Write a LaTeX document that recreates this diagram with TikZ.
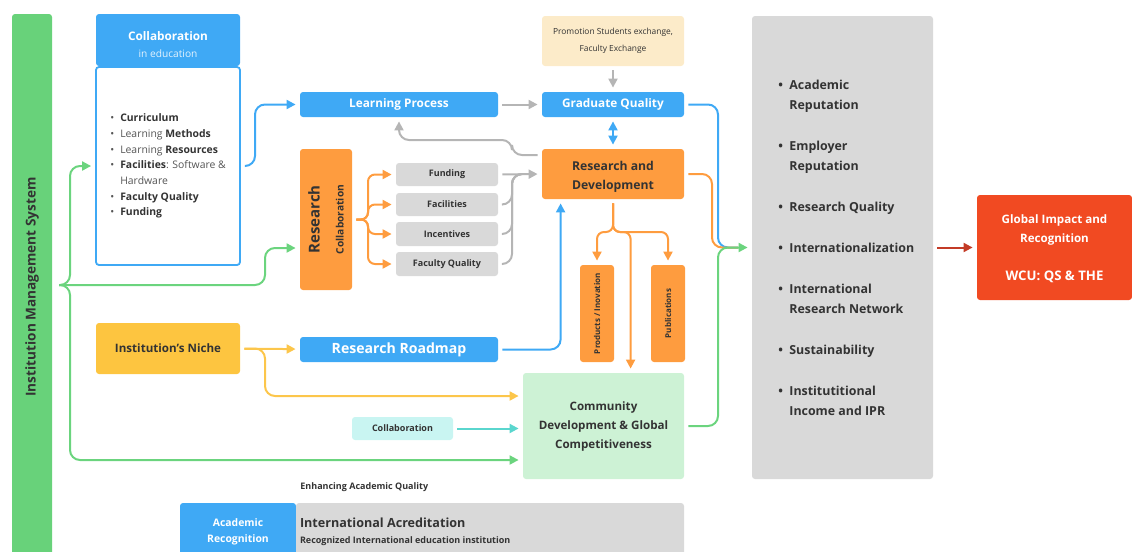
\documentclass[tikz,border=0pt]{standalone}
\usepackage{fontspec}
\setmainfont{Open Sans}
\usetikzlibrary{arrows.meta,calc}

\definecolor{imsgreen}{HTML}{68D27A}
\definecolor{lgreen}{HTML}{6BD47E}
\definecolor{cblue}{HTML}{3FA9F5}
\definecolor{corange}{HTML}{FE9C3F}
\definecolor{cyellow}{HTML}{FDC540}
\definecolor{lyellow}{HTML}{FCC64B}
\definecolor{cgray}{HTML}{D9D9D9}
\definecolor{lgray}{HTML}{B5B5B5}
\definecolor{cpromo}{HTML}{FCEBC9}
\definecolor{ccomm}{HTML}{CDF2D5}
\definecolor{cteal}{HTML}{C9F5F2}
\definecolor{lteal}{HTML}{5AD6CE}
\definecolor{cred}{HTML}{F14A22}
\definecolor{lred}{HTML}{C33B26}
\definecolor{txtdark}{HTML}{333333}
\definecolor{txtgray}{HTML}{555555}

\newcommand{\blt}{\makebox[5pt][l]{\textbullet}}
\newcommand{\fsz}[2]{\fontsize{#1}{#2}\selectfont}

\tikzset{
  box/.style={rectangle,rounded corners=1.5pt,inner sep=1pt,align=center,text=txtdark},
  bluebox/.style={box,fill=cblue,text=white},
  orangebox/.style={box,fill=corange},
  graybox/.style={box,fill=cgray},
  conn/.style={line width=1pt,rounded corners=5pt,shorten >=2pt,shorten <=2pt},
  tip/.style={-{Triangle[length=4.5pt,width=4.5pt]}},
  gline/.style={conn,draw=lgreen},
  bline/.style={conn,draw=cblue},
  oline/.style={conn,draw=corange},
  yline/.style={conn,draw=lyellow},
  grayl/.style={conn,draw=lgray},
  tline/.style={conn,draw=lteal},
  rline/.style={conn,draw=lred}
}

\begin{document}
\begin{tikzpicture}[x=0.5pt,y=-0.5pt]

\useasboundingbox (0,0) rectangle (1132,552);

% left column
\node[box,fill=imsgreen,rotate=90,minimum width=273pt,minimum height=20pt,
  font=\bfseries\fsz{6.8}{9}] (ims) at (32,287) {Institution Management System};

\node[bluebox,minimum width=72pt,minimum height=26pt,font=\bfseries\fsz{5.9}{8.5}]
  (collhead) at (168,40) {\rule{0pt}{9pt}Collaboration\\{\mdseries\fsz{5.1}{7}\color{white!85!cblue}in education}};
\node[box,draw=cblue,line width=0.9pt,fill=white,minimum width=72pt,minimum height=99pt,
  align=left,text=txtgray,font=\fsz{5.2}{7.85}] (collbody) at (168,166)
  {\blt\textbf{\color{txtdark}Curriculum}\\
   \blt Learning \textbf{\color{txtdark}Methods}\\
   \blt Learning \textbf{\color{txtdark}Resources}\\
   \blt\textbf{\color{txtdark}Facilities}: Software \&\\
   \hspace*{5pt}Hardware\\
   \blt\textbf{\color{txtdark}Faculty Quality}\\
   \blt\textbf{\color{txtdark}Funding}};

\node[box,fill=cyellow,minimum width=72pt,minimum height=25.5pt,font=\bfseries\fsz{5.8}{8}]
  (niche) at (168,348.5) {Institution’s Niche};

% middle
\node[bluebox,minimum width=99pt,minimum height=12.5pt,font=\bfseries\fsz{5.9}{8}]
  (learn) at (399,104.5) {Learning Process};
\node[bluebox,minimum width=71pt,minimum height=12.5pt,font=\bfseries\fsz{5.9}{8}]
  (grad) at (613,104.5) {Graduate Quality};
\node[box,fill=cpromo,minimum width=71pt,minimum height=25pt,font=\fsz{4.2}{8.5}]
  (promo) at (613,41) {Promotion Students exchange,\\Faculty Exchange};
\node[orangebox,minimum width=71pt,minimum height=25pt,font=\bfseries\fsz{6.1}{9.5}]
  (rnd) at (613,174) {\rule{0pt}{7pt}Research and\\Development};

\node[orangebox,rotate=90,minimum width=70.5pt,minimum height=26pt]
  (rcoll) at (326,219.5) {{\bfseries\fsz{7.5}{8}Research}\\{\bfseries\fsz{5.1}{6}Collaboration}};

\node[graybox,minimum width=51pt,minimum height=11.5pt,font=\bfseries\fsz{4.5}{6}] (fund) at (447,174.5) {Funding};
\node[graybox,minimum width=51pt,minimum height=11.5pt,font=\bfseries\fsz{4.5}{6}] (facil) at (447,204.5) {Facilities};
\node[graybox,minimum width=51pt,minimum height=12pt,font=\bfseries\fsz{4.5}{6}] (incent) at (447,234) {Incentives};
\node[graybox,minimum width=51pt,minimum height=12pt,font=\bfseries\fsz{4.5}{6}] (facq) at (447,264) {Faculty Quality};

\node[bluebox,minimum width=99pt,minimum height=12.5pt,font=\bfseries\fsz{7.05}{9}]
  (roadmap) at (399,349.5) {Research Roadmap};

\node[orangebox,rotate=90,minimum width=48.5pt,minimum height=17pt,font=\bfseries\fsz{4}{5}]
  (prod) at (597,313.5) {Products / Inovation};
\node[orangebox,rotate=90,minimum width=48.5pt,minimum height=17pt,font=\bfseries\fsz{4}{5}]
  (pub) at (668,313.5) {Publications};

\node[box,fill=ccomm,minimum width=80.5pt,minimum height=53pt,font=\bfseries\fsz{5.8}{9.5}]
  (comm) at (603.5,426) {Community\\Development \& Global\\Competitiveness};
\node[box,fill=cteal,minimum width=50.5pt,minimum height=11.5pt,font=\bfseries\fsz{4.5}{6}]
  (collsmall) at (402.5,428.5) {Collaboration};

% right
\node[graybox,minimum width=90.5pt,minimum height=231.5pt] (metrics) at (842.5,247.5) {};
\node[anchor=west,align=left,inner sep=0pt,text=txtdark,font=\bfseries\fsz{6.2}{10}]
  (metricslist) at (778,248)
  {\makebox[5.5pt][l]{\textbullet}Academic\\\hspace*{5.5pt}Reputation\\[10.5pt]
   \makebox[5.5pt][l]{\textbullet}Employer\\\hspace*{5.5pt}Reputation\\[10.5pt]
   \makebox[5.5pt][l]{\textbullet}Research Quality\\[10.5pt]
   \makebox[5.5pt][l]{\textbullet}Internationalization\\[10.5pt]
   \makebox[5.5pt][l]{\textbullet}International\\\hspace*{5.5pt}Research Network\\[10.5pt]
   \makebox[5.5pt][l]{\textbullet}Sustainability\\[10.5pt]
   \makebox[5.5pt][l]{\textbullet}Institutitional\\\hspace*{5.5pt}Income and IPR};

\node[box,fill=cred,text=white,minimum width=77.5pt,minimum height=52.5pt,font=\bfseries\fsz{5.8}{9.5}]
  (gir) at (1054.5,247.5) {\rule{0pt}{6pt}Global Impact and\\Recognition\\[9.5pt]{\fsz{6.6}{9.5}WCU: QS \& THE}};

% bottom
\node[anchor=west,inner sep=0pt,text=txtdark,font=\bfseries\fsz{4.5}{6}] (enh) at (300,487) {Enhancing Academic Quality};
\node[bluebox,minimum width=58pt,minimum height=28.5pt,font=\bfseries\fsz{5.2}{8}]
  (acrec) at (238,531.5) {Academic\\Recognition};
\node[graybox,minimum height=28.5pt,text width=190pt,inner xsep=2pt,align=flush left]
  (intacc) at (490,531.5) {{\bfseries\fsz{6.3}{8}International Acreditation}\\[-4pt]{\bfseries\fsz{4.5}{6}Recognized International education institution}};

% connectors
\coordinate (split) at (55,285);
\draw[gline,tip] (split) -- (70,285) |- (collbody.west);
\draw[gline,tip] (split) -- (265,285) |- ($(rcoll.north)+(0,28.5)$);
\draw[gline,tip] (split) -- (70,285) |- ($(comm.west)+(0,34)$);

\draw[bline,tip] (collbody.east) -- (255,166) |- (learn.west);
\draw[grayl,tip] (learn) -- (grad);
\draw[grayl,tip] (promo) -- (grad);
\draw[bline,{Triangle[length=4.5pt,width=4.5pt]}-{Triangle[length=4.5pt,width=4.5pt]}] (grad) -- (rnd);
\draw[grayl,tip] ($(rnd.west)+(0,-19)$) -| (512,140) -| (learn.south);

\foreach \b in {fund,facil,incent,facq}
  \draw[oline,tip,rounded corners=3.5pt] (rcoll.south) -- (368,219.5) |- (\b.west);
\draw[grayl,tip] (fund.east) -- (rnd.west);
\foreach \b in {facil,incent,facq}
  \draw[grayl,shorten >=0pt] (\b.east) -| (512,174) -- (522,174);

\draw[yline,tip] (niche) -- (roadmap);
\draw[yline,tip] (niche.east) -- (265,348.5) |- ($(comm.west)+(0,-30)$);
\draw[bline,tip] (roadmap.east) -| ($(rnd.south west)+(19,0)$);

\coordinate (rsplit) at (613,232);
\draw[oline,tip,rounded corners=3.5pt] (rnd.south) -- (rsplit) -| (prod.east);
\draw[oline,tip,rounded corners=3.5pt] (rnd.south) -- (rsplit) -| (pub.east);
\draw[oline,tip,rounded corners=3.5pt] (rnd.south) -- (rsplit) -| ($(comm.north west)+(108,0)$);

\draw[tline,tip] (collsmall) -- (comm.west |- collsmall);

\coordinate (merge) at (738,247.5);
\draw[bline,shorten >=0pt] (grad.east) -| (718,247.5) -- (merge);
\draw[oline,shorten >=0pt] (rnd.east) -| (712,247.5) -- (merge);
\draw[gline,tip] (comm.east) -| (718,247.5) -- (metrics.west);
\draw[rline,tip] (metrics) -- (gir);

\end{tikzpicture}
\end{document}
